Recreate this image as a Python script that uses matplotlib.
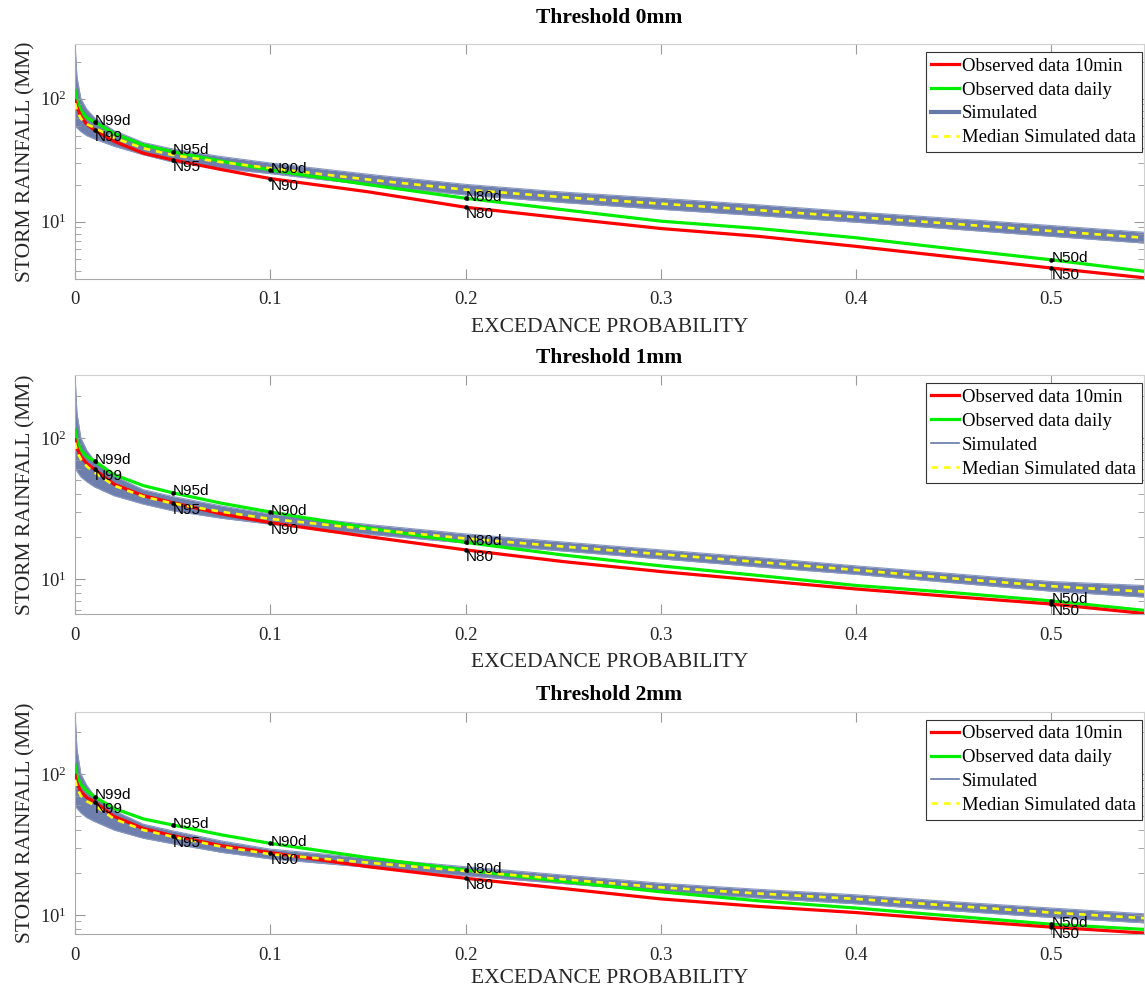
import numpy as np
import matplotlib.pyplot as plt
from matplotlib.ticker import NullFormatter

plt.rcParams['font.family'] = ['Liberation Serif', 'DejaVu Serif']
plt.rcParams['mathtext.fontset'] = 'stix'

# exceedance probability grid shared by all curves
prob = [0, 0.001, 0.003, 0.006, 0.01, 0.02, 0.035, 0.05, 0.075, 0.1,
        0.15, 0.2, 0.25, 0.3, 0.35, 0.4, 0.45, 0.5, 0.5475]

thresholds = ['Threshold 0mm', 'Threshold 1mm', 'Threshold 2mm']

# threshold 0mm
obs10_0 = [96, 85, 72, 62, 55.6, 45, 36, 31.8, 26.5, 22.4, 17.5, 13.1, 10.7, 8.8, 7.6, 6.3, 5.15, 4.2, 3.5]
obsday_0 = [117, 95, 80, 70, 64.7, 52, 42, 37, 31, 26.3, 20, 15.5, 12.5, 10.1, 8.8, 7.4, 6.0, 4.9, 3.95]
simmed_0 = [92, 80, 69, 62, 58, 48, 39.5, 34.8, 30.5, 27.2, 22, 18.2, 15.8, 14.0, 12.4, 10.9, 9.6, 8.4, 7.4]
simlo_0 = [60, 58, 54, 50, 47, 41, 35, 30.5, 27.0, 24.6, 19.9, 16.5, 14.3, 12.6, 11.2, 9.9, 8.7, 7.6, 6.7]
simhi_0 = [278, 150, 100, 82, 70, 55, 44, 39, 33.8, 30.0, 24.3, 20.1, 17.4, 15.5, 13.7, 12.0, 10.6, 9.3, 8.2]

# threshold 1mm
obs10_1 = [97, 85, 74, 66, 60, 47, 39, 34.8, 29, 25.1, 20, 16.1, 13.3, 11.3, 9.8, 8.5, 7.5, 6.65, 5.7]
obsday_1 = [115, 95, 82, 74, 68.7, 55, 46, 40.9, 34.5, 29.9, 23, 18.2, 14.8, 12.4, 10.6, 9.0, 8.0, 7.0, 6.0]
simmed_1 = [93, 80, 71, 63, 57, 46, 38.5, 34.4, 30, 26.7, 22.6, 19.4, 17.0, 15.0, 13.2, 11.6, 10.1, 8.9, 8.15]
simlo_1 = [62, 58, 53, 49, 45, 39, 34, 30.5, 27, 24.5, 20.8, 18.0, 15.8, 13.9, 12.2, 10.8, 9.4, 8.2, 7.45]
simhi_1 = [280, 150, 100, 82, 69, 54, 43, 38.5, 33, 29, 24.4, 20.9, 18.3, 16.1, 14.2, 12.4, 10.9, 9.6, 9.0]

# threshold 2mm
obs10_2 = [98, 86, 75, 68, 63.5, 50, 41, 36.5, 31, 27.7, 22, 18.2, 15.4, 13.0, 11.5, 10.4, 9.2, 8.2, 7.45]
obsday_2 = [116, 96, 84, 76, 69, 57, 48, 43.5, 37, 32.2, 25.5, 20.8, 17.3, 14.6, 12.6, 11.2, 9.8, 8.6, 7.9]
simmed_2 = [91, 80, 70, 64, 60, 48, 40, 35.9, 30.5, 27, 23.5, 20.5, 17.9, 15.7, 14.2, 13.0, 11.6, 10.4, 9.5]
simlo_2 = [60, 57, 53, 49, 46, 40, 35, 32, 27.8, 25, 21.8, 19.0, 16.7, 14.7, 13.2, 12.0, 10.7, 9.6, 8.8]
simhi_2 = [275, 150, 100, 83, 70, 55, 44, 39.5, 33.5, 29.3, 25.3, 22.0, 19.2, 16.8, 15.2, 13.9, 12.4, 11.2, 10.2]

ylims = [(3.42, 278), (5.65, 280), (7.33, 275)]

quant_x = [0.01, 0.05, 0.1, 0.2, 0.5]
quant_names = ['N99', 'N95', 'N90', 'N80', 'N50']

panels = [
    (obs10_0, obsday_0, simmed_0, simlo_0, simhi_0),
    (obs10_1, obsday_1, simmed_1, simlo_1, simhi_1),
    (obs10_2, obsday_2, simmed_2, simlo_2, simhi_2),
]

W, H = 1145, 989
# (top, bottom) of each axes in pixels, title / xlabel pad per panel
ax_px = [(44, 279), (375, 614), (712, 934)]
title_pad = [15, 9, 9]
xlab_pad = [7, 7, 4]
left_px, right_px = 75, 1144

sim_c = '#6678a9'
txt_c = '#262626'

fig = plt.figure(figsize=(W / 100, H / 100), dpi=100)

for i, (obs10, obsday, simmed, simlo, simhi) in enumerate(panels):
    top, bot = ax_px[i]
    ax = fig.add_axes([left_px / W, 1 - bot / H, (right_px - left_px) / W, (bot - top) / H])

    x = np.array(prob)

    # simulated ensemble envelope
    ax.fill_between(x, simlo, simhi, color=sim_c, lw=0, alpha=0.95, zorder=1)
    ax.plot(x, simlo, color='#8b99c2', lw=0.8, zorder=1)
    ax.plot(x, simhi, color='#8b99c2', lw=0.8, zorder=1)

    h_red, = ax.plot(x, obs10, color='#ff0000', lw=2.3, zorder=4)
    h_green, = ax.plot(x, obsday, color='#00ee00', lw=2.3, zorder=3)
    h_med, = ax.plot(x, simmed, color='#ffff00', lw=1.9, ls=(0, (2.5, 2.2)), zorder=5)
    h_sim, = ax.plot([], [], color=sim_c, lw=3 if i == 0 else 1.2)

    # quantile markers
    y10 = np.interp(quant_x, x, obs10)
    yday = np.interp(quant_x, x, obsday)
    ax.plot(quant_x, y10, 'k.', ms=4.5, zorder=6)
    ax.plot(quant_x, yday, 'k.', ms=4.5, zorder=6)
    for qx, qa, qb, name in zip(quant_x, y10, yday, quant_names):
        ax.annotate(name + 'd', (qx, qb), xytext=(0, 1), textcoords='offset points',
                    fontsize=11, family='Liberation Sans', va='center', ha='left', zorder=7)
        ax.annotate(name, (qx, qa), xytext=(0, -5), textcoords='offset points',
                    fontsize=11, family='Liberation Sans', va='center', ha='left', zorder=7)

    ax.set_yscale('log')
    ax.set_xlim(0, 0.5475)
    ax.set_ylim(*ylims[i])
    ax.set_xticks([0, 0.1, 0.2, 0.3, 0.4, 0.5])
    ax.set_xticklabels(['0', '0.1', '0.2', '0.3', '0.4', '0.5'])
    ax.yaxis.set_minor_formatter(NullFormatter())

    ax.tick_params(which='both', direction='in', top=True, right=True,
                   colors='#999999', labelcolor=txt_c, labelsize=13.5)
    ax.tick_params(which='major', length=7, width=0.8)
    ax.tick_params(which='minor', length=4, width=0.6)
    ax.tick_params(axis='x', pad=9)
    ax.tick_params(axis='y', pad=6)
    for s in ['left', 'bottom']:
        ax.spines[s].set_color('#a8a8a8')
    for s in ['top', 'right']:
        ax.spines[s].set_color('#d0d0d0')

    ax.set_title(thresholds[i], fontsize=15.5, fontweight='bold', pad=title_pad[i])
    ax.set_xlabel('EXCEDANCE PROBABILITY', fontsize=15.5, color=txt_c, labelpad=xlab_pad[i])
    ax.set_ylabel('STORM RAINFALL (MM)', fontsize=15.5, color=txt_c, labelpad=3)

    leg = ax.legend([h_red, h_green, h_sim, h_med],
                    ['Observed data 10min', 'Observed data daily', 'Simulated', 'Median Simulated data'],
                    loc='upper right', bbox_to_anchor=(0.998, 0.966), fontsize=13.5,
                    handlelength=1.5, handletextpad=0.15, labelspacing=0.36, borderpad=0.3,
                    borderaxespad=0, fancybox=False, framealpha=1, edgecolor='#333333')
    leg.get_frame().set_linewidth(0.8)
    leg.set_zorder(10)

fig.savefig('out.png', dpi=100)
